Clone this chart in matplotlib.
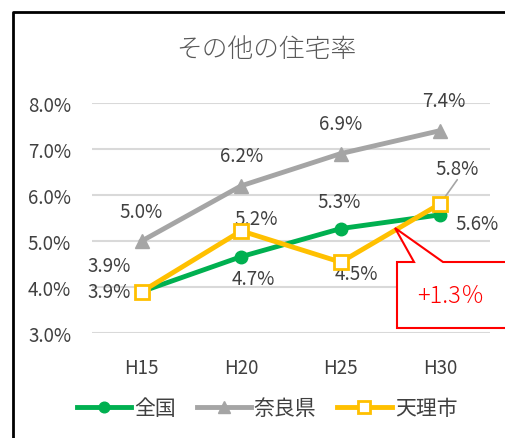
import matplotlib
matplotlib.use("Agg")
import matplotlib.pyplot as plt
from matplotlib.patches import Polygon

plt.rcParams['font.family'] = ['Noto Sans CJK JP', 'DejaVu Sans']

# data
years = ['H15', 'H20', 'H25', 'H30']
zenkoku = [3.9, 4.66, 5.27, 5.57]
nara = [5.0, 6.2, 6.9, 7.4]
tenri = [3.9, 5.22, 4.54, 5.81]
yticks = [3.0, 4.0, 5.0, 6.0, 7.0, 8.0]

W, H = 506, 439
fig = plt.figure(figsize=(W / 100, H / 100), dpi=100)

# plot area in pixels: x 92..490, y 104..334
ax = fig.add_axes([92 / W, 1 - 334 / H, 398 / W, 230 / H])
x = list(range(len(years)))
ax.set_xlim(-0.5, 3.5)
ax.set_ylim(3.0, 8.0)
ax.set_yticks(yticks)
ax.set_yticklabels([f'{v:.1f}%' for v in yticks])
ax.set_xticks(x)
ax.set_xticklabels(years)
ax.tick_params(length=0, labelsize=13.5, labelcolor='#404040')
ax.tick_params(axis='y', pad=15)
ax.tick_params(axis='x', pad=17)
for s in ax.spines.values():
    s.set_visible(False)
ax.grid(axis='y', color='#d9d9d9', lw=1.5)
ax.set_axisbelow(True)

green, grey, yellow = '#00b050', '#a5a5a5', '#ffc000'
ax.plot(x, nara, color=grey, lw=3.5, marker='^', ms=9.5, label='奈良県', zorder=3)
ax.plot(x, zenkoku, color=green, lw=3.5, marker='o', ms=9, label='全国', zorder=4)
ax.plot(x, tenri, color=yellow, lw=3.5, marker='s', ms=9.5, mfc='white', mec=yellow,
        mew=2, label='天理市', zorder=5)

lab_kw = dict(textcoords='offset pixels', ha='center', va='center',
              fontsize=13.5, color='#404040')
off_zen = [(-33, 0), (12, -22), (-2, 27), (37, -9)]
off_nara = [(-1, 29), (0, 30), (0, 30), (4, 30)]
off_tenri = [(-33, 26), (15, 12), (16, -11), (17, 35)]
for xs, ys, offs in [(x, zenkoku, off_zen), (x, nara, off_nara), (x, tenri, off_tenri)]:
    for xi, yi, o in zip(xs, ys, offs):
        ax.annotate(f'{yi:.1f}%', (xi, yi), xytext=o, **lab_kw)

# leader line for tenri H30
ax.annotate('', (3, tenri[3]), xytext=(17, 24), textcoords='offset pixels',
            arrowprops=dict(arrowstyle='-', color='#a5a5a5', lw=1.2,
                            shrinkA=0, shrinkB=4))

handles, labels = ax.get_legend_handles_labels()
order = [1, 0, 2]
fig.legend([handles[i] for i in order], [labels[i] for i in order],
           loc='center', bbox_to_anchor=(267 / W, 1 - 409 / H), ncol=3,
           frameon=False, fontsize=15, labelcolor='#404040', markerscale=0.85,
           handlelength=2.6, handletextpad=0.15, columnspacing=1.0)

fig.text(266 / W, 1 - 50 / H, 'その他の住宅率', ha='center', va='center',
         fontsize=18.5, color='#595959', fontweight='light')

# overlay in pixel coordinates: frame and callout
ov = fig.add_axes([0, 0, 1, 1], zorder=10)
ov.set_xlim(0, W)
ov.set_ylim(H, 0)
ov.axis('off')
ov.patch.set_alpha(0)
ov.plot([13, 13, W + 5], [H + 5, 13, 13], color='black', lw=2)
callout = Polygon([(397, 263), (414, 263), (395, 229), (443, 263), (W + 5, 263),
                   (W + 5, 329), (397, 329)], closed=True, fc='white',
                  ec='#ff0000', lw=1.5)
ov.add_patch(callout)
ov.text(451, 297, '+1.3％', ha='center', va='center', fontsize=17, color='#ff0000',
        fontweight='light')

fig.savefig('out.png', dpi=100)
